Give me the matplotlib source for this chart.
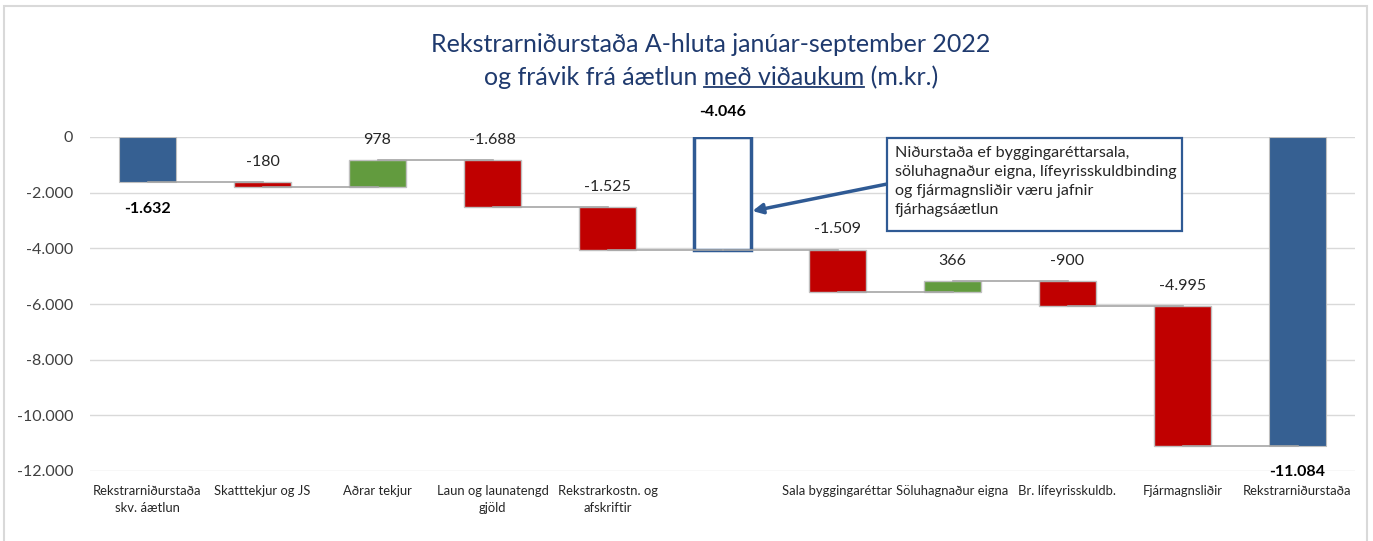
import matplotlib.pyplot as plt
from matplotlib.patches import Rectangle

plt.rcParams['font.family'] = ['Lato', 'DejaVu Sans']

# Gögn
categories = ['Rekstrarniðurstaða\nskv. áætlun', 'Skatttekjur og JS', 'Aðrar tekjur',
              'Laun og launatengd\ngjöld', 'Rekstrarkostn. og\nafskriftir', '',
              'Sala byggingaréttar', 'Söluhagnaður eigna', 'Br. lífeyrisskuldb.',
              'Fjármagnsliðir', 'Rekstrarniðurstaða']
values = [-1632, -180, 978, -1688, -1525, -4046, -1509, 366, -900, -4995, -11084]
kinds = ['total', 'delta', 'delta', 'delta', 'delta', 'subtotal',
         'delta', 'delta', 'delta', 'delta', 'total']
yticks = [0, -2000, -4000, -6000, -8000, -10000, -12000]

blue = '#366092'
red = '#C00000'
green = '#629B3E'
navy = '#1F3A6E'

def fmt(v):
    return f'{v:,}'.replace(',', '.')

fig = plt.figure(figsize=(13.73, 5.41), dpi=100)
ax = fig.add_axes([90 / 1373, 70 / 541, 1265 / 1373, 334 / 541])

running = 0
levels = []
for i, (v, k) in enumerate(zip(values, kinds)):
    if k == 'delta':
        bottom = running
        running += v
        color = green if v > 0 else red
        ax.bar(i, v, bottom=bottom, width=0.5, color=color, edgecolor='#BFBFBF', lw=1, zorder=2)
        top = max(bottom, running)
        ax.annotate(fmt(v), (i, top), xytext=(0, 14.5), textcoords='offset points',
                    ha='center', va='center', fontsize=11.5, color='#262626')
    else:
        running = v
        if k == 'subtotal':
            ax.bar(i, v, width=0.5, facecolor='white', edgecolor='#2F5A94', lw=2.5, zorder=2)
            ax.annotate(fmt(v), (i, 0), xytext=(0, 18), textcoords='offset points',
                        ha='center', va='center', fontsize=11.5, fontweight='bold')
        else:
            ax.bar(i, v, width=0.5, color=blue, edgecolor='#BFBFBF', lw=0.8, zorder=2)
            ax.annotate(fmt(v), (i, v), xytext=(0, -19), textcoords='offset points',
                        ha='center', va='center', fontsize=11.5, fontweight='bold')
    levels.append(running)

# tengilínur
for i in range(len(values) - 1):
    ax.plot([i, i + 1], [levels[i], levels[i]], color='#A6A6A6', lw=1.2, zorder=3)

ax.set_xlim(-0.5, len(values) - 0.5)
ax.set_ylim(-12000, 0)
ax.set_yticks(yticks)
ax.set_yticklabels([fmt(t) for t in yticks], fontsize=11.5, color='#404040')
ax.set_xticks(range(len(categories)))
ax.set_xticklabels(categories, fontsize=9.4, color='#262626', linespacing=1.55)
ax.tick_params(length=0)
ax.tick_params(axis='y', pad=12)
ax.tick_params(axis='x', pad=10)
ax.grid(axis='y', color='#D9D9D9', lw=1, zorder=0)
ax.set_axisbelow(True)
for s in ax.spines.values():
    s.set_visible(False)

# skýringarbox og ör
box_txt = ('Niðurstaða ef byggingaréttarsala,\nsöluhagnaður eigna, lífeyrisskuldbinding\n'
           'og fjármagnsliðir væru jafnir\nfjárhagsáætlun')
bx0, by0, bw, bh = 887 / 1373, (541 - 231) / 541, 295 / 1373, 93 / 541
fig.patches.append(Rectangle((bx0, by0), bw, bh, transform=fig.transFigure,
                             facecolor='white', edgecolor='#2F5A94', lw=1.6, zorder=5))
fig.text(bx0 + 8 / 1373, by0 + bh - 8 / 541, box_txt, ha='left', va='top',
         fontsize=11.6, color='#262626', linespacing=1.45, zorder=6)
ax.annotate('', xy=(5.26, -2660), xytext=(6.43, -1690),
            arrowprops=dict(arrowstyle='-|>,head_length=0.6,head_width=0.3',
                            color='#2F5A94', lw=2.5, shrinkA=0, shrinkB=0),
            annotation_clip=False, zorder=6)

# titill
fig.text(711 / 1373, 1 - 44 / 541, 'Rekstrarniðurstaða A-hluta janúar-september 2022',
         ha='center', va='center', fontsize=18, color=navy)
t2 = fig.text(711 / 1373, 1 - 77 / 541, 'og frávik frá áætlun með viðaukum (m.kr.)',
              ha='center', va='center', fontsize=18, color=navy)
fig.canvas.draw()
r = fig.canvas.get_renderer()
bb = t2.get_window_extent(r)
pre = fig.text(0, 0, 'og frávik frá áætlun ', fontsize=18)
mid = fig.text(0, 0, 'með viðaukum', fontsize=18)
w_pre = pre.get_window_extent(r).width
w_mid = mid.get_window_extent(r).width
pre.remove()
mid.remove()
x0 = bb.x0 + w_pre
yu = bb.y0 + 2
fig.add_artist(plt.Line2D([x0 / 1373, (x0 + w_mid) / 1373], [yu / 541, yu / 541],
                          transform=fig.transFigure, color=navy, lw=1.3))

# rammi
fig.patches.append(Rectangle((4 / 1373, -0.01), 1363 / 1373, 1 - 6 / 541 + 0.01,
                             transform=fig.transFigure, fill=False, edgecolor='#D9D9D9', lw=1.5))

plt.savefig('out.png', dpi=100)
